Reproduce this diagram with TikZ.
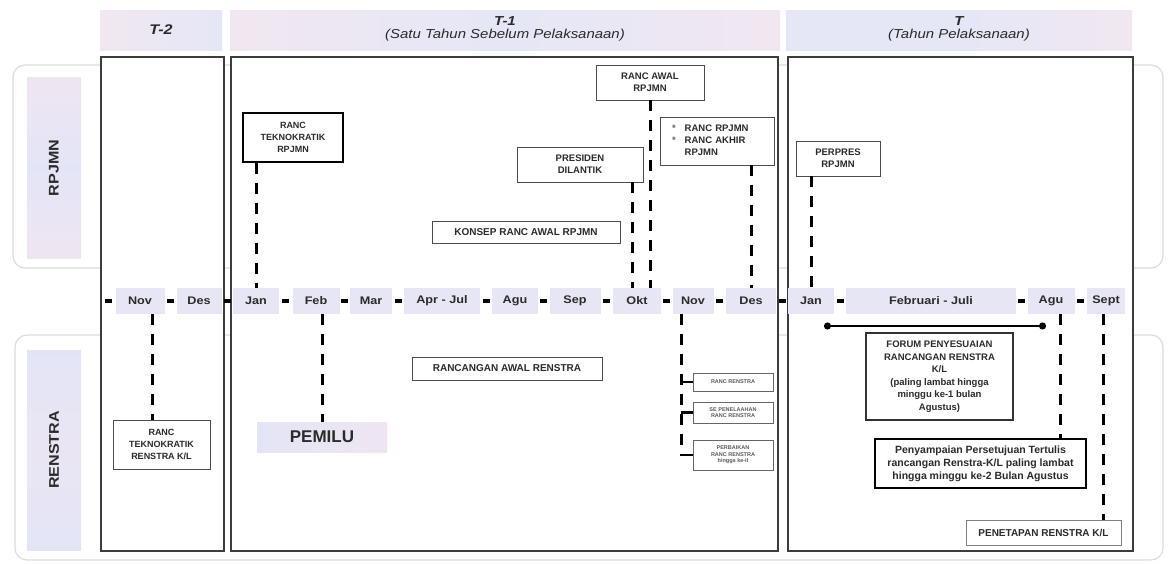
\documentclass[tikz,border=0pt]{standalone}
\usepackage{fontspec}
\setmainfont{Liberation Sans}
\newfontfamily\wfont{Liberation Sans}[FakeStretch=1.15]
\usetikzlibrary{arrows.meta}
\definecolor{lav}{HTML}{E7E6F4}
\definecolor{hp}{HTML}{F1E7F1}
\definecolor{hb}{HTML}{E5E7F6}
\definecolor{barP}{HTML}{EFE5F1}
\definecolor{barB}{HTML}{E3E5F6}
\definecolor{txt}{HTML}{2B2B2B}
\definecolor{frame}{HTML}{3C3C3C}
\definecolor{outl}{HTML}{DCDCDC}
\begin{document}
\begin{tikzpicture}[x=1pt,y=-1pt,
  colbox/.style={draw=frame,line width=1.5pt,fill=white},
  hdr/.style={align=center,text=txt,inner sep=0pt},
  rowlab/.style={rotate=90,font=\wfont\bfseries\fontsize{14}{16}\selectfont,text=txt},
  box/.style={draw=black!70,line width=0.8pt,fill=white,align=center,
    font=\bfseries\fontsize{9.5}{12}\selectfont,text=txt,inner sep=1pt},
  thickbox/.style={box,draw=black,line width=2.2pt},
  sbox/.style={draw=black!60,line width=0.7pt,fill=white,align=center,minimum width=80pt,
    font=\bfseries\fontsize{5.5}{6.5}\selectfont,text=black!65,inner sep=0.5pt},
  month/.style={fill=lav,minimum height=26pt,font=\wfont\bfseries\fontsize{11}{12}\selectfont,text=txt,inner sep=0pt},
  tickm/.style={fill=black,minimum width=7pt,minimum height=3.5pt,inner sep=0pt},
  vdash/.style={line width=3pt,dash pattern=on 11pt off 9pt},
  stub/.style={line width=2.5pt},
  pemilu/.style={left color=barB,right color=barP,minimum width=130pt,minimum height=30pt,
    font=\bfseries\fontsize{17}{18}\selectfont,text=txt,inner sep=0pt},
]
\useasboundingbox (0,0) rectangle (1171,563);
% row outlines
\draw[draw=outl,line width=1.2pt,rounded corners=12pt] (13,65) rectangle (1163,268);
\draw[draw=outl,line width=1.2pt,rounded corners=12pt] (15,335) rectangle (1163,560);
% row label bars
\shade[top color=barP,bottom color=barP,middle color=barB] (27,77) rectangle (81,258);
\node[rowlab] (lr) at (54,168) {RPJMN};
\shade[top color=barB,bottom color=barB,middle color=barP!60!barB] (27,350) rectangle (81,550);
\node[rowlab] (ls) at (54,450) {RENSTRA};
% header bands
\shade[left color=hp,right color=hb] (100,10) rectangle (222,50);
\node[hdr,font=\wfont\bfseries\itshape\fontsize{14}{16}\selectfont] (h2) at (161,30) {T-2};
\shade[left color=hp,right color=hp,middle color=hb] (230,10) rectangle (780,50);
\node[hdr] (h1) at (505,29) {{\wfont\bfseries\itshape\fontsize{13}{15}\selectfont T-1}\\[1pt]{\wfont\itshape\fontsize{13}{15}\selectfont (Satu Tahun Sebelum Pelaksanaan)}};
\shade[left color=hb,right color=hp,middle color=hb] (786,10) rectangle (1132,50);
\node[hdr] (h0) at (959,29) {{\wfont\bfseries\itshape\fontsize{13}{15}\selectfont T}\\[1pt]{\wfont\itshape\fontsize{13}{15}\selectfont (Tahun Pelaksanaan)}};
% columns
\draw[colbox] (101,57) rectangle (224,551);
\draw[colbox] (231,57) rectangle (778,551);
\draw[colbox] (788,57) rectangle (1133,551);
% timeline months
\node[month,minimum width=49pt] (m1) at (140,301) {Nov};
\node[month,minimum width=45pt] (m2) at (199,301) {Des};
\node[month,minimum width=46pt] (m3) at (256,301) {Jan};
\node[month,minimum width=47pt] (m4) at (316,301) {Feb};
\node[month,minimum width=42pt] (m5) at (371,301) {Mar};
\node[month,minimum width=76pt] (m6) at (442,301) {Apr - Jul};
\node[month,minimum width=46pt] (m7) at (515,301) {Agu};
\node[month,minimum width=51pt] (m8) at (575,301) {Sep};
\node[month,minimum width=48pt] (m9) at (637,301) {Okt};
\node[month,minimum width=41pt] (m10) at (693,301) {Nov};
\node[month,minimum width=50pt] (m11) at (751,301) {Des};
\node[month,minimum width=46pt] (m12) at (811,301) {Jan};
\node[month,minimum width=170pt] (m13) at (931,301) {Februari - Juli};
\node[month,minimum width=47pt] (m14) at (1051,301) {Agu};
\node[month,minimum width=38pt] (m15) at (1106,301) {Sept};
\node[tickm] (t0) at (108,301) {};
\path (m1.east) -- node[tickm]{} (m2.west);
\path (m2.east) -- node[tickm]{} (m3.west);
\path (m3.east) -- node[tickm]{} (m4.west);
\path (m4.east) -- node[tickm]{} (m5.west);
\path (m5.east) -- node[tickm]{} (m6.west);
\path (m6.east) -- node[tickm]{} (m7.west);
\path (m7.east) -- node[tickm]{} (m8.west);
\path (m8.east) -- node[tickm]{} (m9.west);
\path (m9.east) -- node[tickm]{} (m10.west);
\path (m10.east) -- node[tickm]{} (m11.west);
\path (m11.east) -- node[tickm]{} (m12.west);
\path (m12.east) -- node[tickm]{} (m13.west);
\path (m13.east) -- node[tickm]{} (m14.west);
\path (m14.east) -- node[tickm]{} (m15.west);
% RPJMN boxes
\node[thickbox,minimum width=100pt,minimum height=49pt,font=\bfseries\fontsize{9}{12}\selectfont] (rtr) at (293,137.5) {RANC\\TEKNOKRATIK\\RPJMN};
\node[box,minimum width=108pt,minimum height=35pt] (rar) at (650,82.5) {RANC AWAL\\RPJMN};
\node[box,minimum width=126pt,minimum height=35pt] (pd) at (580,164.5) {PRESIDEN\\DILANTIK};
\node[box,minimum width=114pt,minimum height=48pt,text width=90pt,align=left] (rrp) at (717,141)
  {\begin{tabular}{@{}l@{\hspace{9pt}}l@{}}\textcolor{black!60}{*}&RANC RPJMN\\\textcolor{black!60}{*}&RANC AKHIR\\&RPJMN\end{tabular}};
\node[box,minimum width=188pt,minimum height=22pt,font=\bfseries\fontsize{10}{12}\selectfont] (krar) at (526,232) {KONSEP RANC AWAL RPJMN};
\node[box,minimum width=84pt,minimum height=35pt] (perp) at (838,158.5) {PERPRES\\RPJMN};
% RENSTRA boxes
\node[box,minimum width=190pt,minimum height=23pt,font=\bfseries\fontsize{10}{12}\selectfont] (rare) at (507,368.5) {RANCANGAN AWAL RENSTRA};
\node[box,minimum width=97pt,minimum height=49pt,font=\bfseries\fontsize{9}{12}\selectfont] (rtrk) at (161.5,444.5) {RANC\\TEKNOKRATIK\\RENSTRA K/L};
\node[pemilu] (pem) at (322,437) {PEMILU};
\node[sbox,minimum height=18pt] (sb1) at (733,382) {RANC RENSTRA};
\node[sbox,minimum height=21pt] (sb2) at (733,412.5) {SE PENELAAHAN\\RANC RENSTRA};
\node[sbox,minimum height=30pt] (sb3) at (733,455) {PERBAIKAN\\RANC RENSTRA\\hingga ke-II};
\node[box,minimum width=147pt,minimum height=87pt,line width=1.2pt,draw=black!80,font=\bfseries\fontsize{9.5}{12.5}\selectfont] (forum) at (939.5,376.5)
  {FORUM PENYESUAIAN\\RANCANGAN RENSTRA\\K/L\\(paling lambat hingga\\minggu ke-1 bulan\\Agustus)};
\node[thickbox,minimum width=211pt,minimum height=49pt,font=\bfseries\fontsize{10.5}{13}\selectfont] (peny) at (980.5,463.5)
  {Penyampaian Persetujuan Tertulis\\rancangan Renstra-K/L paling lambat\\hingga minggu ke-2 Bulan Agustus};
\node[box,minimum width=155pt,minimum height=25pt,draw=black!50,font=\bfseries\fontsize{10}{12}\selectfont] (pen) at (1043.5,532.5) {PENETAPAN RENSTRA K/L};
% connectors
\draw[vdash] (rtr.south -| m3.north) -- (m3.north);
\draw[vdash] ([xshift=-5pt]m9.north |- pd.south) -- ([xshift=-5pt]m9.north);
\draw[vdash] (rar.south) -- (rar.south |- m9.north);
\draw[vdash] (rrp.south -| m11.north) -- (m11.north);
\draw[vdash] (perp.south -| m12.north) -- (m12.north);
\draw[vdash] ([xshift=12pt]m1.south) -- ([xshift=12pt]m1.south |- rtrk.north);
\draw[vdash] (pem.north |- m4.south) -- (pem.north);
\coordinate (nv) at ([xshift=-12pt]m10.south);
\draw[vdash] (nv) -- (nv |- sb3.west);
\draw[stub] (nv |- sb1.west) -- (sb1.west);
\draw[stub] (nv |- sb2.west) -- (sb2.west);
\draw[stub] ([xshift=-1.25pt]nv |- sb3.west) -- (sb3.west);
\draw[vdash] ([xshift=9pt]m14.south) -- ([xshift=9pt]m14.south |- peny.north);
\draw[vdash] ([xshift=-3pt]m15.south) -- ([xshift=-3pt]m15.south |- pen.north);
\coordinate (fs) at (824,326);
\coordinate (fe) at (1046,326);
\draw[line width=2pt,{Circle[length=7pt]}-{Circle[length=7pt]}] (fs) -- (fe);
\end{tikzpicture}
\end{document}
